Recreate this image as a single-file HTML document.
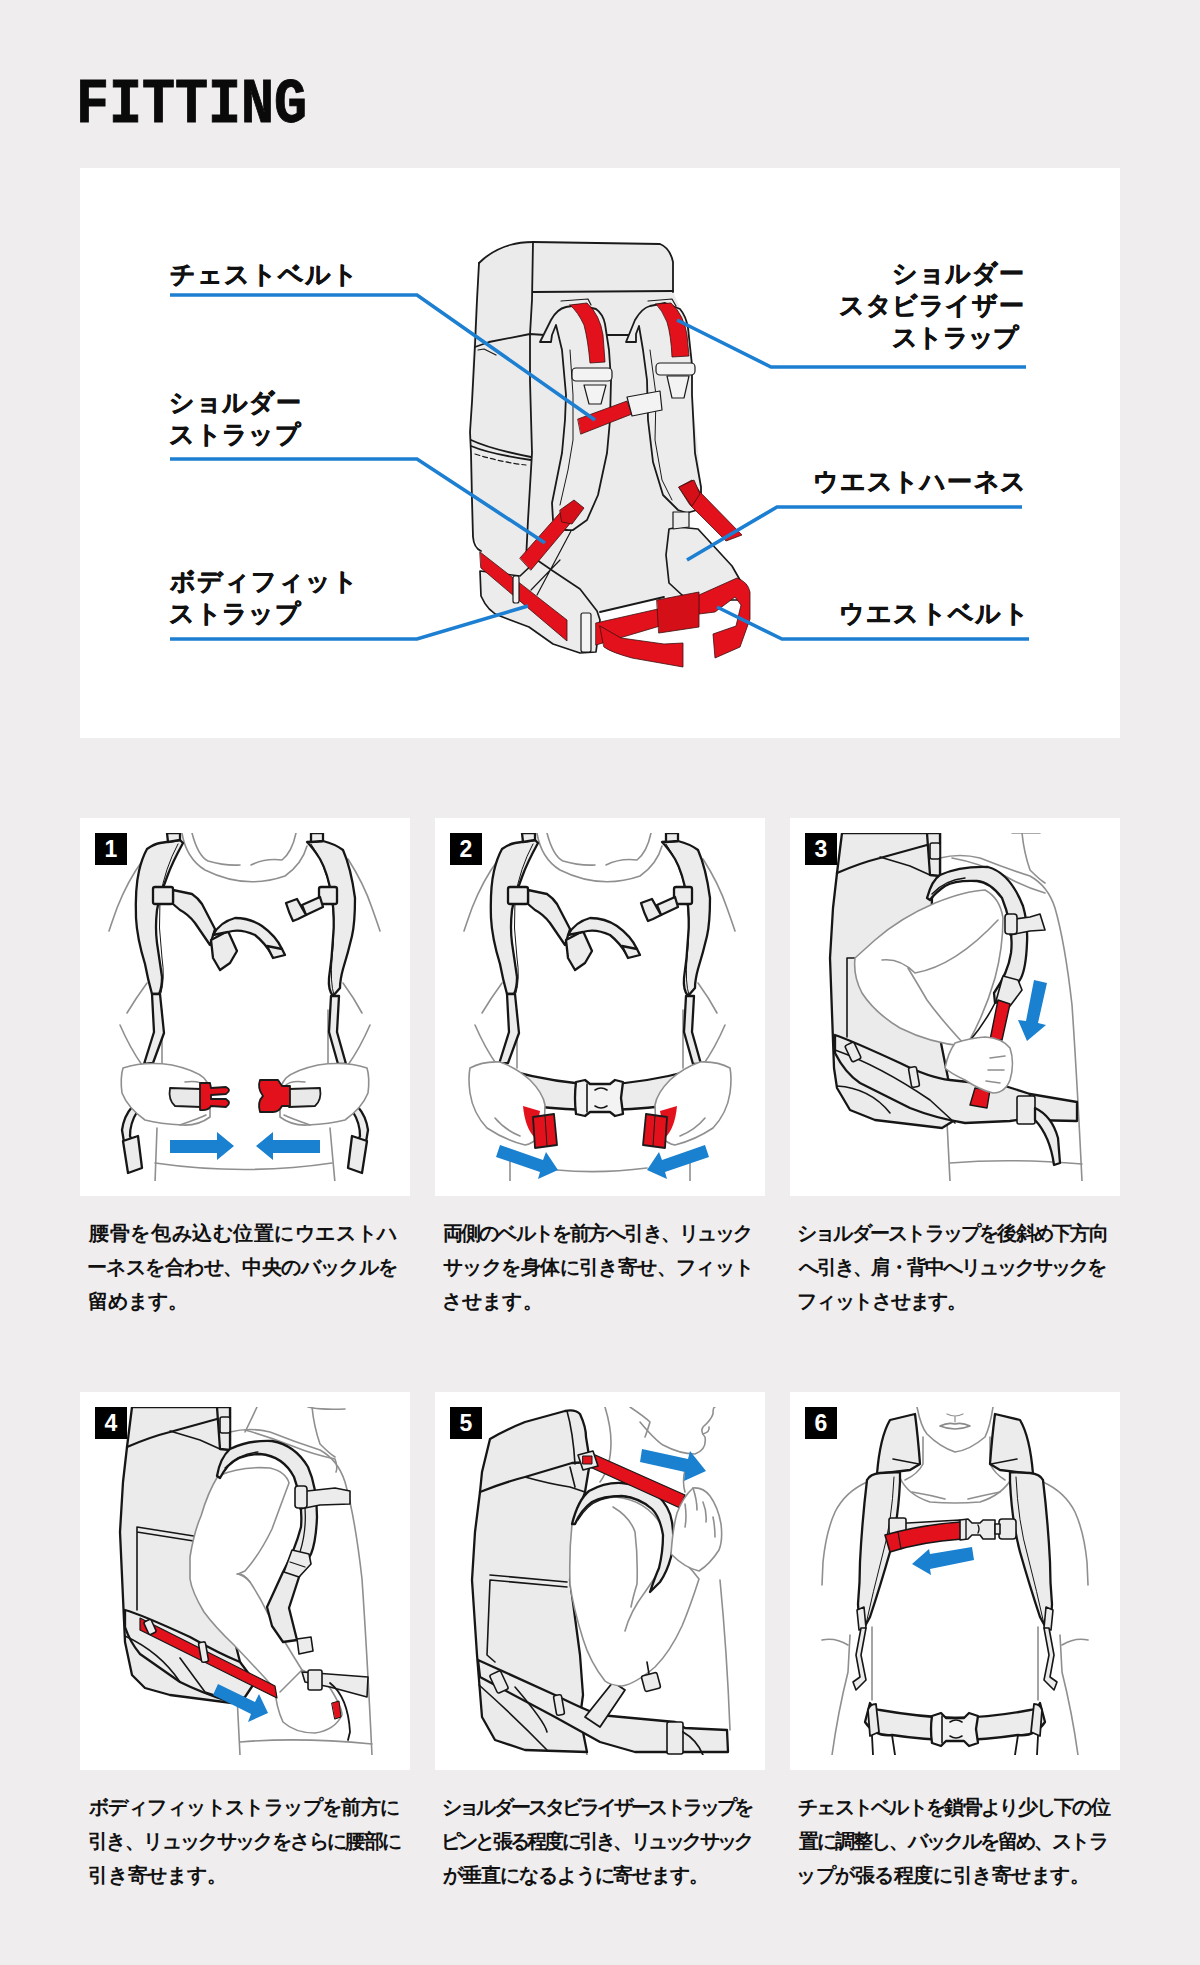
<!DOCTYPE html>
<html lang="ja">
<head>
<meta charset="utf-8">
<style>
html,body{margin:0;padding:0;}
body{width:1200px;height:1965px;background:#efedee;position:relative;overflow:hidden;font-family:"Liberation Sans",sans-serif;}
.title{position:absolute;left:76px;top:71px;font-family:"Liberation Mono",monospace;font-weight:bold;font-size:55px;line-height:60px;color:#0a0a0a;transform-origin:0 0;transform:scaleY(1.16);-webkit-text-stroke:0.8px #0a0a0a;}
.panel{position:absolute;background:#fff;}
.main{left:80px;top:168px;width:1040px;height:570px;}
.card{width:330px;height:378px;}
.badge{position:absolute;left:15px;top:15px;width:32px;height:32px;background:#000;color:#fff;font-weight:bold;font-size:23px;line-height:32px;text-align:center;}
.cap{position:absolute;font-size:20px;line-height:34px;color:#111;font-weight:bold;white-space:nowrap;}
.lbl{position:absolute;font-size:25px;line-height:32px;font-weight:bold;color:#111;white-space:nowrap;-webkit-text-stroke:0.5px #111;}
.cap i,.lbl i{display:inline-block;font-style:normal;width:var(--w);text-align:center;}
svg{position:absolute;left:0;top:0;}
</style>
</head>
<body>
<div class="title">FITTING</div>
<div class="panel main"></div>
<div class="panel card" style="left:80px;top:818px"></div>
<div class="panel card" style="left:435px;top:818px"></div>
<div class="panel card" style="left:790px;top:818px"></div>
<div class="panel card" style="left:80px;top:1392px"></div>
<div class="panel card" style="left:435px;top:1392px"></div>
<div class="panel card" style="left:790px;top:1392px"></div>
<svg width="1200" height="1965" viewBox="0 0 1200 1965">
<defs>
<clipPath id="cp1"><rect x="95" y="833" width="300" height="348"/></clipPath>
<clipPath id="cp2"><rect x="450" y="833" width="300" height="348"/></clipPath>
<clipPath id="cp3"><rect x="805" y="833" width="300" height="348"/></clipPath>
<clipPath id="cp4"><rect x="95" y="1407" width="300" height="348"/></clipPath>
<clipPath id="cp5"><rect x="450" y="1407" width="300" height="348"/></clipPath>
<clipPath id="cp6"><rect x="805" y="1407" width="300" height="348"/></clipPath>
</defs>
<g id="mainbp" stroke-linejoin="round" stroke-linecap="round">
 <path fill="#ebebeb" d="M479,263 Q492,250 526,242 L660,244 Q670,246 673,262 L673,292 L690,330 L692,395 L697,440 L702,498 L689,511 L669,529 L666,555 L669,583 L682,595 L664,597 L600,612 L596,652 L580,653 L553,644 L529,627 L500,616 L481,596 L481,551 L473,537 L470,432 Q472,340 479,263 Z"/>
 <g fill="none" stroke="#1a1a1a" stroke-width="1.8">
  <path d="M479,263 Q492,250 510,245 Q520,242 533,242 L660,244 Q670,248 673,262 L673,292"/>
  <path d="M533,242 L532,300 L530,334 L530,381 L532,453 L528,520 L526,560"/>
  <path d="M533,292 L673,291" stroke-width="2"/>
  <path d="M479,263 L477,300 L475,345 L472,402 L470,432 L471,453 L472,500 L473,537 Q474,548 481,551"/>
  <path d="M475,347 L489,342 L530,334 L545,335"/>
  <path d="M478,350 L484,349 L496,355" stroke-width="1.2"/>
  <path d="M471,440 Q490,449 531,457"/>
  <path d="M471,446 Q490,454 531,460"/>
  <path d="M475,454 Q500,462 526,465" stroke-width="1.2" stroke-dasharray="5 3"/>
  <path d="M600,335 L630,335"/>
  <path d="M600,612 L664,597"/>
 </g>
 <!-- side bottom piece / hip wing left -->
 <path fill="#ececec" stroke="#1a1a1a" stroke-width="1.7" d="M480,571 L481,596 Q488,612 500,616 L529,627 L553,644 L580,653 L596,652 L600,620 L597,611 L580,589 L553,571 L537,560 L520,576 Z"/>
 <path fill="none" stroke="#1a1a1a" stroke-width="1.2" d="M571,531 L537,595 M560,560 L531,590"/>
 <!-- left shoulder strap -->
 <path fill="#ececec" stroke="#1a1a1a" stroke-width="1.8" d="M540,342 L551,320 Q557,309 566,307 L578,305 L596,309 Q603,314 605,324 L609,350 L611,380 L610,420 L607,453 L598,495 L587,520 L573,530 Q563,531 558,527 L553,520 L552,503 L562,453 L565,420 L566,395 L562,350 L556,325 L552,335 L551,342 Z"/>
 <path fill="none" stroke="#1a1a1a" stroke-width="1" d="M570,350 L573,395 L573,440 L568,470 L560,505"/>
 <path fill="none" stroke="#1a1a1a" stroke-width="1.2" d="M561,301 L588,299 L591,305"/>
 <!-- right shoulder strap -->
 <path fill="#ececec" stroke="#1a1a1a" stroke-width="1.8" d="M626,342 L635,320 Q642,308 650,306 L665,303 L680,309 Q686,316 688,328 L692,365 L692,395 L695,453 L701,487 L701,500 L697,510 L687,513 L678,510 L663,495 L653,462 L648,420 L647,380 L643,350 L639,326 L636,334 L636,342 Z"/>
 <path fill="none" stroke="#1a1a1a" stroke-width="1" d="M650,350 L656,395 L655,440 L662,480 L672,500"/>
 <path fill="none" stroke="#1a1a1a" stroke-width="1.2" d="M648,301 L672,299 L676,306"/>
 <!-- harness right wing -->
 <path fill="#ececec" stroke="#1a1a1a" stroke-width="1.7" d="M669,529 L678,527 L698,529 L732,566 L740,580 L738,600 L690,600 L682,595 L669,583 L666,555 Z"/>
 <path fill="#ececec" stroke="#1a1a1a" stroke-width="1.2" d="M673,512 L689,512 L689,527 L673,529 Z"/>
 <!-- red webbing -->
 <g fill="#e3111b" stroke="#3a1010" stroke-width="0.8">
  <path d="M570,305 L587,303 Q600,315 603,335 L605,362 L590,363 Q588,340 584,325 Q578,312 570,305 Z"/>
  <path d="M656,304 L671,303 Q684,315 687,335 L689,356 L672,357 Q671,335 667,322 Q662,310 656,304 Z"/>
  <path d="M578,419 L627,401 L632,414 L581,434 Z"/>
  <path d="M520,558 L566,506 L578,514 L531,570 Z"/>
  <path d="M679,487 L692,480 L700,492 L742,535 L726,541 L690,505 Z"/>
  <path d="M480,552 L567,620 L567,641 L481,568 Z"/>
  <path d="M596,623 L658,609 L660,626 L596,645 Z"/>
  <path d="M600,626 L621,638 L664,644 L683,643 L683,667 L632,658 Q610,652 604,647 Z"/>
  <path d="M699,595 L737,578 Q748,582 750,592 L750,619 L740,647 L715,658 L713,634 L736,626 L741,605 L735,597 L715,612 L699,614 Z"/>
 </g>
 <g fill="#d40f18" stroke="#3a1010" stroke-width="0.8">
  <path d="M657,600 L699,592 L699,627 L659,633 Z"/>
  <path d="M560,510 L574,500 L584,508 L572,524 L562,522 Z"/>
  <path d="M679,487 L694,480 L700,494 L692,506 Z"/>
 </g>
 <g fill="#f3f3f3" stroke="#1a1a1a" stroke-width="1.2">
  <rect x="572" y="368" width="40" height="13" rx="4"/>
  <rect x="656" y="363" width="39" height="12" rx="4"/>
  <path d="M584,385 L606,385 L601,404 L589,404 Z"/>
  <path d="M667,376 L689,376 L684,398 L672,398 Z"/>
  <path d="M627,397 L660,391 L662,410 L632,416 Z"/>
  <rect x="513" y="576" width="6" height="27" rx="2"/>
  <rect x="581" y="613" width="10" height="39" rx="2"/>
 </g>
</g>
<g fill="none" stroke="#1c7fd1" stroke-width="3.6" stroke-linejoin="miter">
 <path d="M170,295 L417,295 L595,420"/>
 <path d="M170,459 L417,459 L545,543"/>
 <path d="M170,639 L417,639 L528,606"/>
 <path d="M677,320 L771,367 L1026,367"/>
 <path d="M687,560 L777,507 L1022,507"/>
 <path d="M717,607 L782,639 L1029,639"/>
</g>

<g clip-path="url(#cp1)">
<g transform="translate(80,818)">
<g fill="none" stroke="#8f8f8f" stroke-width="1.6" stroke-linecap="round" stroke-linejoin="round">
 <!-- neck / collar -->
 <path d="M102,15 Q106,40 125,52 Q165,72 205,58 Q222,46 227,28"/>
 <path d="M112,15 Q118,38 128,43 Q145,48 160,47"/>
 <path d="M171,47 Q185,40 202,42 Q212,34 216,15"/>
 <!-- shoulders / arms -->
 <path d="M63,42 Q48,62 37,90 Q32,104 29,113"/>
 <path d="M268,41 Q284,66 292,90 Q297,104 300,113"/>
 <path d="M67,165 Q56,180 47,195"/>
 <path d="M263,165 Q274,180 282,195"/>
 <path d="M40,207 Q50,230 62,247"/>
 <path d="M290,207 Q280,230 268,247"/>
 <path d="M82,192 L82,250"/>
 <path d="M248,192 L248,250"/>
</g>
<!-- shoulder straps -->
<g stroke="#161616" stroke-width="2.3" stroke-linejoin="round" stroke-linecap="round">
 <path fill="#ececec" d="M67,31 Q74,26 80,25 L100,22 L103,25 Q92,45 87,59 Q79,80 77,92 Q75,110 77,125 Q80,145 82,159 Q82,170 79,176 L72,176 Q68,162 65,146 Q57,120 56,100 Q55,70 59,53 Q62,40 67,31 Z"/>
 <path fill="#ececec" d="M227,24 L243,23 Q255,26 263,32 Q271,50 275,80 Q275,105 272,118 Q268,135 263,151 Q260,162 260,170 L253,178 Q248,172 249,160 Q252,140 253,120 Q255,100 252,80 Q248,55 240,41 Q233,30 227,24 Z"/>
 <path fill="#ececec" d="M72,176 L80,176 L84,215 L73,245 L64,246 L74,214 Z"/>
 <path fill="#ececec" d="M251,178 L259,178 L257,214 L266,246 L258,246 L249,214 Z"/>
 <path fill="none" stroke-width="1" d="M98,26 Q85,50 80,80 Q78,110 82,140 Q85,160 81,175"/>
 <path fill="none" stroke-width="1" d="M231,26 Q245,45 251,75 Q256,110 252,140 Q250,165 254,177"/>
 <path fill="#ececec" d="M87,15 L100,15 L100,22 L88,24 Z"/>
 <path fill="#ececec" d="M231,15 L243,15 L243,23 L231,24 Z"/>
</g>

<g stroke="#161616" stroke-width="2.3" stroke-linejoin="round" stroke-linecap="round">
 <!-- chest strap left -->
 <path fill="#ececec" d="M93,72 L112,76 Q118,80 122,86 L135,111 L130,127 L115,105 Q108,96 100,92 L93,86 Z"/>
 <rect fill="#ececec" x="73" y="69" width="20" height="17" rx="2"/>
 <path fill="#ececec" d="M131,122 L148,113 L157,133 L150,145 L140,152 L133,140 Z"/>
 <path fill="#ececec" d="M133,117 Q140,104 155,100 Q170,100 182,108 Q196,118 202,131 L192,137 Q185,125 175,117 Q160,110 148,114 Z"/>
 <path fill="#ececec" d="M187,128 L202,131 L205,137 L193,140 Z"/>
 <!-- chest strap right -->
 <rect fill="#ececec" x="239" y="69" width="18" height="17" rx="2"/>
 <path fill="#ececec" d="M222,87 L240,79 L243,89 L226,97 Z"/>
 <path fill="#ececec" d="M206,85 L217,81 Q222,90 226,97 L218,101 L213,103 Q209,95 206,85 Z"/>
 <!-- hip belt ends -->
 <path fill="#ececec" d="M52,289 L57,294 Q50,305 50,318 L54,327 L45,330 L42,312 Q44,298 52,289 Z"/>
 <path fill="#ececec" d="M43,323 L58,318 L62,350 L48,355 Z"/>
 <path fill="#ececec" d="M278,289 L273,294 Q280,305 280,318 L276,327 L285,330 L288,312 Q286,298 278,289 Z"/>
 <path fill="#ececec" d="M287,323 L272,318 L268,350 L282,355 Z"/>
</g>
<g fill="none" stroke="#8f8f8f" stroke-width="1.6" stroke-linecap="round" stroke-linejoin="round">
 <path d="M77,310 L75,365"/>
 <path d="M250,310 L255,365"/>
 <path d="M75,345 Q165,358 252,345"/>
 <path fill="#fff" d="M43,250 Q65,243 92,247 Q115,252 124,260 Q131,268 130,278 L130,299 Q118,308 102,307 Q80,306 65,302 Q48,290 42,275 Q40,260 43,250 Z"/>
 <path fill="#fff" d="M287,250 Q265,243 238,247 Q215,252 206,260 Q199,268 200,278 L200,299 Q212,308 228,307 Q250,306 265,302 Q282,290 288,275 Q290,260 287,250 Z"/>
 <path d="M100,307 Q120,300 126,297 M105,264 Q120,262 125,268 M230,307 Q210,300 204,297 M225,264 Q210,262 205,268"/>
</g>
<g stroke="#1b1b1b" stroke-width="1.8" stroke-linejoin="round">
 <path fill="#e9e9e9" d="M90,270 L121,271 L121,289 L95,288 Q88,282 90,270 Z"/>
 <path fill="#e9e9e9" d="M240,270 L209,271 L209,289 L235,288 Q242,282 240,270 Z"/>
 <path fill="#e3111b" d="M120,265 L130,265 L131,270 L146,269 Q152,272 146,276 L131,277 L131,281 L146,281 Q152,285 146,289 L131,288 Q128,293 120,292 Z"/>
 <path fill="#e3111b" d="M180,262 L198,262 L202,268 L210,268 L210,288 L202,288 Q199,294 193,294 L180,294 Q177,284 183,278 Q177,270 180,262 Z"/>
</g>
<g fill="#1a80d0">
 <path d="M90,322 L137,322 L137,314 L154,328 L137,342 L137,335 L90,335 Z"/>
 <path d="M240,322 L193,322 L193,314 L176,328 L193,342 L193,335 L240,335 Z"/>
</g>
</g>

</g>

<g clip-path="url(#cp2)">
<g transform="translate(435,818)">
<g fill="none" stroke="#8f8f8f" stroke-width="1.6" stroke-linecap="round" stroke-linejoin="round">
 <!-- neck / collar -->
 <path d="M102,15 Q106,40 125,52 Q165,72 205,58 Q222,46 227,28"/>
 <path d="M112,15 Q118,38 128,43 Q145,48 160,47"/>
 <path d="M171,47 Q185,40 202,42 Q212,34 216,15"/>
 <!-- shoulders / arms -->
 <path d="M63,42 Q48,62 37,90 Q32,104 29,113"/>
 <path d="M268,41 Q284,66 292,90 Q297,104 300,113"/>
 <path d="M67,165 Q56,180 47,195"/>
 <path d="M263,165 Q274,180 282,195"/>
 <path d="M40,207 Q50,230 62,247"/>
 <path d="M290,207 Q280,230 268,247"/>
 <path d="M82,192 L82,250"/>
 <path d="M248,192 L248,250"/>
</g>
<!-- shoulder straps -->
<g stroke="#161616" stroke-width="2.3" stroke-linejoin="round" stroke-linecap="round">
 <path fill="#ececec" d="M67,31 Q74,26 80,25 L100,22 L103,25 Q92,45 87,59 Q79,80 77,92 Q75,110 77,125 Q80,145 82,159 Q82,170 79,176 L72,176 Q68,162 65,146 Q57,120 56,100 Q55,70 59,53 Q62,40 67,31 Z"/>
 <path fill="#ececec" d="M227,24 L243,23 Q255,26 263,32 Q271,50 275,80 Q275,105 272,118 Q268,135 263,151 Q260,162 260,170 L253,178 Q248,172 249,160 Q252,140 253,120 Q255,100 252,80 Q248,55 240,41 Q233,30 227,24 Z"/>
 <path fill="#ececec" d="M72,176 L80,176 L84,215 L73,245 L64,246 L74,214 Z"/>
 <path fill="#ececec" d="M251,178 L259,178 L257,214 L266,246 L258,246 L249,214 Z"/>
 <path fill="none" stroke-width="1" d="M98,26 Q85,50 80,80 Q78,110 82,140 Q85,160 81,175"/>
 <path fill="none" stroke-width="1" d="M231,26 Q245,45 251,75 Q256,110 252,140 Q250,165 254,177"/>
 <path fill="#ececec" d="M87,15 L100,15 L100,22 L88,24 Z"/>
 <path fill="#ececec" d="M231,15 L243,15 L243,23 L231,24 Z"/>
</g>

<g stroke="#161616" stroke-width="2.3" stroke-linejoin="round" stroke-linecap="round">
<!-- chest strap left -->
 <path fill="#ececec" d="M93,72 L112,76 Q118,80 122,86 L135,111 L130,127 L115,105 Q108,96 100,92 L93,86 Z"/>
 <rect fill="#ececec" x="73" y="69" width="20" height="17" rx="2"/>
 <path fill="#ececec" d="M131,122 L148,113 L157,133 L150,145 L140,152 L133,140 Z"/>
 <path fill="#ececec" d="M133,117 Q140,104 155,100 Q170,100 182,108 Q196,118 202,131 L192,137 Q185,125 175,117 Q160,110 148,114 Z"/>
 <path fill="#ececec" d="M187,128 L202,131 L205,137 L193,140 Z"/>
 <!-- chest strap right -->
 <rect fill="#ececec" x="239" y="69" width="18" height="17" rx="2"/>
 <path fill="#ececec" d="M222,87 L240,79 L243,89 L226,97 Z"/>
 <path fill="#ececec" d="M206,85 L217,81 Q222,90 226,97 L218,101 L213,103 Q209,95 206,85 Z"/>
 
 <!-- waist belt -->
 <path fill="#ececec" d="M72,252 Q120,265 165,267 Q210,265 258,252 L262,262 Q240,282 230,288 Q195,292 165,292 Q130,292 98,288 Q85,282 68,262 Z"/>
 <path fill="#f3f3f3" d="M141,264 L150,262 L155,266 L175,266 L180,262 L188,264 L186,280 L188,296 L180,298 L175,294 L155,294 L150,298 L141,296 Q139,280 141,264 Z"/>
 <path fill="none" stroke-width="1.6" d="M152,266 L152,294 M160,272 Q166,268 172,272 M160,288 Q166,292 172,288"/>
</g>
<g fill="none" stroke="#8f8f8f" stroke-width="1.6" stroke-linecap="round" stroke-linejoin="round">
 <path d="M75,342 L75,365"/>
 <path d="M255,342 L255,365"/>
 <path d="M122,352 Q165,356 212,350"/>
 <path fill="#fff" d="M35,250 Q48,243 65,244 Q82,250 95,262 Q108,275 110,287 Q110,305 105,317 Q98,326 90,327 Q70,322 52,310 Q38,295 35,275 Q33,260 35,250 Z"/>
 <path fill="#fff" d="M295,250 Q282,243 265,244 Q248,250 235,262 Q222,275 220,287 Q220,305 225,317 Q232,326 240,327 Q260,322 278,310 Q292,295 295,275 Q297,260 295,250 Z"/>
 <path d="M60,300 Q70,312 85,318 M270,300 Q260,312 245,318"/>
</g>
<g stroke="#1b1b1b" stroke-width="1.8" stroke-linejoin="round">
 <path fill="#e3111b" stroke="none" d="M88,288 L105,293 L100,320 Q90,310 88,288 Z"/>
 <path fill="#e3111b" stroke="none" d="M242,288 L225,293 L230,320 Q240,310 242,288 Z"/>
 <path fill="#e3111b" d="M98,299 L119,296 L122,327 L100,330 Z"/>
 <path fill="#e3111b" d="M232,299 L211,296 L208,327 L230,330 Z"/>
 <path fill="none" stroke-width="1" d="M110,298 L112,328 M220,298 L218,328"/>
</g>
<g fill="#1a80d0">
 <path d="M65,327 L108,342 L111,334 L123,352 L103,361 L105,354 L61,339 Z"/>
 <path d="M270,327 L227,342 L224,334 L212,352 L232,361 L230,354 L274,339 Z"/>
</g>
</g>

</g>

<g clip-path="url(#cp3)">
<g transform="translate(790,818)">
<!-- person torso -->
<g fill="none" stroke="#8f8f8f" stroke-width="1.6" stroke-linecap="round" stroke-linejoin="round">
 <path fill="#fff" stroke="none" d="M150,40 Q170,35 190,40 Q215,50 240,58 Q258,68 265,90 Q275,125 282,187 Q287,260 292,358 L160,360 L157,304 L150,60 Z"/>
 <path d="M150,40 Q170,35 190,40 Q215,50 240,58 Q258,68 265,90 Q275,125 282,187 Q287,260 292,363 M157,304 L160,363"/>
 <path d="M232,15 Q234,35 240,52 Q250,62 255,65"/>
 <path d="M222,15 Q230,15 250,15"/>
 <path d="M162,40 Q190,45 215,58 Q232,68 255,75"/>
 <path d="M160,345 Q220,340 292,346"/>
</g>
<!-- backpack body -->
<g stroke="#161616" stroke-width="2.3" stroke-linejoin="round" stroke-linecap="round">
 <path fill="#ebebeb" d="M52,15 L150,15 L150,58 L142,80 L140,160 L150,220 L158,260 L168,300 L152,310 L85,302 L60,292 L47,270 L44,250 L40,140 L43,90 L47,55 Z"/>
 <path fill="none" d="M47,55 Q70,45 90,40 L137,27 L150,25"/>
 <path fill="none" stroke-width="1.6" d="M90,39 Q110,45 120,48 L140,57"/>
 <path fill="#ebebeb" d="M137,15 L150,15 L150,58 L140,57 Z"/>
 <rect fill="#ececec" x="140" y="25" width="10" height="16" rx="2" stroke-width="1.6"/>
 <path fill="none" stroke-width="1.6" d="M57,140 L66,140 M57,140 L57,219"/>
 <!-- hip belt -->
 <path fill="#ececec" d="M45,217 Q60,222 110,245 Q140,260 160,262 L215,268 L240,276 L240,300 L220,303 L175,305 Q145,300 120,290 L70,265 Q55,255 45,235 Z"/>
 <path fill="none" stroke-width="1.6" d="M45,232 Q90,248 140,282 L165,305"/>
 <path fill="none" stroke-width="1.6" d="M47,268 Q80,270 100,295"/>
 <rect fill="#ececec" x="58" y="225" width="10" height="18" rx="2" transform="rotate(-25 63 234)" stroke-width="1.6"/>
 <rect fill="#ececec" x="120" y="249" width="8" height="20" rx="2" transform="rotate(-10 124 259)" stroke-width="1.6"/>
 <path fill="#ececec" d="M240,276 L287,284 L287,303 L240,302 Z"/>
 <rect fill="#ececec" x="227" y="278" width="18" height="28" rx="2" stroke-width="1.6"/>
 <path fill="#ececec" d="M245,290 Q262,298 268,320 L270,345 L264,347 Q260,318 245,302 Z"/>
</g>
<!-- arm -->
<g fill="#fff" stroke="#8f8f8f" stroke-width="1.6" stroke-linecap="round" stroke-linejoin="round">
 <path d="M65,140 L85,122 Q110,100 145,85 Q175,73 195,72 Q210,80 213,100 Q213,130 205,160 Q195,195 178,225 L173,228 Q140,225 110,210 Q85,195 72,175 Q63,158 65,140 Z"/>
 <path fill="none" d="M92,142 Q110,140 125,155 Q165,148 208,102"/>
 <path fill="none" d="M118,150 Q130,170 137,182 Q150,200 173,225"/>
</g>
<!-- shoulder strap -->
<g stroke="#161616" stroke-width="2.3" stroke-linejoin="round" stroke-linecap="round">
 <path fill="#ebebeb" d="M137,80 Q142,62 150,57 Q170,48 198,49 Q220,55 233,88 Q238,105 237,125 Q236,150 231,160 L218,182 L205,185 L204,175 Q218,155 221,135 Q224,110 212,80 Q200,64 187,63 Q165,62 155,68 Q145,75 140,82 Z"/>
 <path fill="none" stroke-width="1.4" d="M142,76 Q155,62 175,60"/>
 <path fill="#ececec" d="M213,158 L228,162 L232,172 L220,188 L206,183 Z" stroke-width="1.6"/>
 <path fill="#ececec" d="M218,102 L240,99 L250,96 L255,112 L240,113 L220,117 Z" stroke-width="1.6"/>
 <rect fill="#ececec" x="215" y="96" width="12" height="20" rx="3" stroke-width="1.6"/>
 <path fill="none" stroke-width="1.6" d="M205,185 Q195,205 178,225"/>
 <path fill="#e3111b" stroke-width="1.4" d="M208,182 L220,186 L212,222 L200,222 Z"/>
 <path fill="#e3111b" stroke-width="1.4" d="M185,270 L200,272 L197,290 L180,287 Z"/>
</g>
<!-- hand -->
<g fill="#fff" stroke="#8f8f8f" stroke-width="1.6" stroke-linecap="round" stroke-linejoin="round">
 <path d="M165,225 Q180,220 195,219 Q212,220 220,230 Q225,245 220,262 Q215,275 203,275 Q190,272 175,262 Q160,255 155,250 Q158,235 165,225 Z"/>
 <path fill="none" d="M200,240 L215,238 M198,252 L214,252 M196,263 L210,265"/>
</g>
<path fill="#1a80d0" d="M244,162 L257,165 L248,205 L256,207 L237,223 L228,202 L236,203 Z"/>
</g>

</g>

<g clip-path="url(#cp4)">
<g transform="translate(80,1392)">
<g fill="none" stroke="#8f8f8f" stroke-width="1.6" stroke-linecap="round" stroke-linejoin="round">
 <path fill="#fff" stroke="none" d="M150,40 Q170,35 190,40 Q215,50 240,58 Q258,68 265,90 Q275,125 282,187 Q287,260 292,358 L160,360 L157,304 L150,60 Z"/>
 <path d="M150,40 Q170,35 190,40 Q215,50 240,58 Q258,68 265,90 Q275,125 282,187 Q287,260 292,363 M157,304 L160,363"/>
 <path d="M177,15 Q170,30 165,40"/>
 <path d="M232,15 Q234,35 240,52 Q250,62 255,65"/>
 <path d="M228,15 Q240,18 265,17"/>
 <path d="M165,38 Q190,45 215,55 Q232,62 255,67 Q258,75 256,80"/>
 <path d="M160,350 Q220,345 292,352"/>
</g>
<g stroke="#161616" stroke-width="2.3" stroke-linejoin="round" stroke-linecap="round">
 <path fill="#ebebeb" d="M52,15 L150,15 L150,58 L142,80 L135,160 L150,230 L160,270 L168,300 L152,311 L90,303 L65,296 L52,283 L45,250 L40,140 L43,90 L47,55 Z"/>
 <path fill="none" d="M47,55 Q70,45 90,40 L137,27 L150,25"/>
 <path fill="none" stroke-width="1.6" d="M90,39 Q110,45 120,48 L140,57"/>
 <path fill="#ebebeb" d="M137,15 L150,15 L150,58 L140,57 Z"/>
 <rect fill="#ececec" x="140" y="25" width="10" height="16" rx="2" stroke-width="1.6"/>
 <path fill="none" stroke-width="1.6" d="M57,135 L120,145 M57,140 L120,150 M57,135 L57,218"/>
 <!-- hip belt lower -->
 <path fill="#ececec" d="M45,218 Q60,222 110,245 Q140,262 160,270 L175,290 L165,305 L150,310 Q120,300 100,290 L60,262 Q50,250 45,235 Z"/>
 <path fill="none" stroke-width="1.6" d="M45,244 Q80,260 100,290 M100,266 L125,300 L150,308"/>
</g>
<!-- arm -->
<g fill="#fff" stroke="#8f8f8f" stroke-width="1.6" stroke-linecap="round" stroke-linejoin="round">
 <path d="M138,84 Q160,74 190,76 Q206,80 209,91 Q200,115 192,137 Q180,162 165,179 L158,182 Q165,184 170,190 Q180,205 187,220 Q195,235 203,247 Q212,262 222,278 Q240,285 250,296 Q262,315 262,323 Q255,338 235,341 Q215,341 203,330 Q196,315 195,297 Q175,275 154,253 Q135,235 124,220 Q112,200 110,187 L110,165 Q114,140 121,124 Q128,100 138,84 Z"/>
 <path fill="none" d="M157,182 Q163,181 170,190 M200,300 Q215,285 222,278"/>
</g>
<!-- shoulder strap -->
<g stroke="#161616" stroke-width="2.3" stroke-linejoin="round" stroke-linecap="round">
 <path fill="#ebebeb" d="M137,84 Q140,66 150,57 Q168,48 192,49 Q215,53 228,75 Q237,95 237,125 Q236,150 231,162 L220,182 L209,216 L217,248 L203,250 L192,234 L187,215 L203,180 Q215,158 221,135 Q223,110 214,85 Q203,64 180,62 Q160,62 148,74 Q143,80 140,86 Z"/>
 <path fill="none" stroke-width="1.3" d="M145,76 Q158,62 178,60 M224,105 Q228,135 220,160"/>
 <path fill="#ececec" d="M212,158 L229,162 L231,172 L219,185 L204,180 Z" stroke-width="1.6"/>
 <path fill="none" stroke-width="1.3" d="M210,170 L225,175"/>
 <path fill="#ececec" d="M218,100 L255,96 L270,99 L270,112 L240,113 L220,117 Z" stroke-width="1.6"/>
 <rect fill="#ececec" x="215" y="94" width="12" height="22" rx="3" stroke-width="1.6"/>
 <path fill="#ececec" d="M217,247 L231,245 L233,259 L219,262 Z" stroke-width="1.6"/>
<!-- right belt -->
 <path fill="#ececec" d="M222,280 L288,285 L287,305 L250,295 L225,290 Z" stroke-width="1.6"/>
 <rect fill="#ececec" x="228" y="278" width="14" height="20" rx="2" stroke-width="1.6"/>
 <path fill="none" stroke-width="1.8" d="M250,291 Q268,305 270,340 L268,348"/>
 <!-- red strap -->
 <path fill="#e3111b" stroke-width="1.2" d="M60,226 L195,294 L197,306 L60,238 Z"/>
 <rect fill="#ececec" x="66" y="228" width="8" height="14" rx="2" transform="rotate(-25 70 235)" stroke-width="1.6"/>
 <rect fill="#ececec" x="120" y="250" width="7" height="20" rx="2" transform="rotate(-10 124 260)" stroke-width="1.6"/>
 <path fill="#e3111b" stroke-width="1" d="M252,311 L259,309 L261,325 L255,327 Z"/>
</g>
<path fill="#1a80d0" d="M138,292 L175,310 L179,302 L188,321 L168,330 L171,322 L133,303 Z"/>
</g>

</g>

<g clip-path="url(#cp5)">
<g transform="translate(435,1392)">
<!-- person -->
<g fill="none" stroke="#8f8f8f" stroke-width="1.6" stroke-linecap="round" stroke-linejoin="round">
 <path fill="#fff" stroke="none" d="M165,85 Q175,65 180,40 L172,15 L300,15 L300,363 L150,363 L145,300 L140,150 Z"/>
 <path d="M145,323 L152,363"/>
 <path d="M170,15 Q176,35 176,50 Q176,75 165,90"/>
 <path d="M195,15 Q210,25 215,30 Q212,40 210,45"/>
 <path d="M205,30 Q220,48 228,53 Q245,62 260,62 Q272,58 270,45 Q265,40 268,35 Q276,28 278,22 Q278,15 280,15"/>
 <path d="M268,42 Q275,40 274,35"/>
 <path d="M250,78 Q247,90 250,100"/>
 <path d="M285,188 Q292,260 295,338"/>
</g>
<!-- backpack -->
<g stroke="#161616" stroke-width="2.3" stroke-linejoin="round" stroke-linecap="round">
 <path fill="#ebebeb" d="M55,47 Q70,38 90,30 L130,19 Q140,17 145,22 Q151,35 151,45 L155,70 L150,100 L140,130 L135,188 L145,263 L148,303 L145,325 L152,360 L90,358 L60,348 L47,325 L42,263 L37,188 L40,140 L45,100 L47,80 Z"/>
 <path fill="none" d="M45,100 Q70,90 90,85 L137,71 L155,70"/>
 <path fill="none" stroke-width="1.6" d="M132,19 Q138,40 140,72 M90,85 Q115,92 135,95 L150,100 M135,75 L140,95"/>
 <path fill="none" stroke-width="1.6" d="M55,188 L52,263 L60,270 M55,183 L132,190 M55,188 L132,195"/>
 <!-- hip belt -->
 <path fill="#ececec" d="M43,268 Q80,285 120,303 Q150,318 165,323 L240,330 L250,336 L292,338 L293,360 L200,360 L165,350 L120,325 L45,285 Z"/>
 <path fill="none" stroke-width="1.6" d="M44,293 Q80,325 112,358 M80,295 Q110,330 112,340"/>
 <rect fill="#ececec" x="58" y="280" width="12" height="20" rx="2" transform="rotate(-25 64 290)" stroke-width="1.6"/>
 <rect fill="#ececec" x="120" y="303" width="8" height="20" rx="2" transform="rotate(-10 124 313)" stroke-width="1.6"/>
 <rect fill="#ececec" x="232" y="330" width="16" height="32" rx="2" stroke-width="1.6"/>
 <path fill="none" stroke-width="1.8" d="M248,340 Q262,348 268,363"/>
 <path fill="#ececec" d="M150,325 L178,290 L190,298 L165,335 Z" stroke-width="1.8"/>
</g>
<!-- arm -->
<g fill="#fff" stroke="#8f8f8f" stroke-width="1.6" stroke-linecap="round" stroke-linejoin="round">
 <path d="M137,132 Q150,108 180,105 Q215,108 230,140 Q236,160 236,162 Q250,168 264,187 Q255,215 247,234 Q235,260 220,275 Q200,292 187,294 Q175,293 170,289 Q155,270 148,247 Q138,215 135,192 Q134,160 137,132 Z"/>
 <path fill="none" d="M178,115 Q195,125 200,140 Q203,165 202,192 Q198,205 196,215 M190,239 Q195,220 210,200 Q225,178 236,162"/>
</g>
<!-- shoulder strap arch -->
<g stroke="#161616" stroke-width="2.3" stroke-linejoin="round" stroke-linecap="round">
 <path fill="#ececec" d="M137,132 Q143,108 154,99 Q170,90 187,91 Q210,93 222,103 Q235,115 237,130 Q240,150 236,165 Q232,180 225,190 L215,200 Q220,185 224,176 Q228,160 228,143 Q225,125 217,117 Q205,106 187,104 Q168,104 157,110 Q146,118 140,132 Z"/>
 <path fill="none" stroke-width="1.3" d="M143,128 Q152,113 165,108 Q180,102 195,105"/>
<rect fill="#ececec" x="208" y="282" width="16" height="16" rx="2" transform="rotate(-15 216 290)" stroke-width="1.6"/>
 <path fill="none" stroke-width="1.6" d="M212,270 L214,282"/>
 <!-- red stabilizer -->
 <path fill="#e3111b" stroke-width="1.2" d="M158,62 L250,103 L245,116 L155,75 Z"/>
 <path fill="#ececec" d="M143,63 L158,59 L163,74 L148,78 Z" stroke-width="1.6"/>
 <rect fill="#e3111b" x="148" y="64" width="9" height="8" stroke-width="1"/>
</g>
<!-- hand -->
<g fill="#fff" stroke="#8f8f8f" stroke-width="1.6" stroke-linecap="round" stroke-linejoin="round">
 <path d="M236,162 Q238,135 242,121 Q248,105 258,96 Q268,95 275,104 Q283,115 286,132 Q288,148 284,158 Q275,172 264,179 Q250,176 236,162 Z"/>
 <path fill="none" d="M258,96 Q262,108 262,118 M268,110 Q272,120 271,130 M250,112 Q252,125 250,135 M278,125 Q280,135 280,145"/>
</g>
<path fill="#1a80d0" d="M207,57 L253,67 L255,59 L271,79 L249,89 L250,80 L205,70 Z"/>
</g>

</g>

<g clip-path="url(#cp6)">
<g transform="translate(790,1392)">
<g fill="none" stroke="#8f8f8f" stroke-width="1.6" stroke-linecap="round" stroke-linejoin="round">
 <path d="M127,15 Q131,35 137,42 Q150,55 165,60 Q180,58 195,45 Q200,35 203,15"/>
 <path d="M150,34 Q158,30 165,32 Q172,30 180,34 Q165,40 150,34 Z" stroke="#8a8a8a"/>
 <path d="M157,22 Q165,26 173,22 M165,24 L165,30" stroke-width="1.2"/>
 <path d="M133,45 L133,72 Q128,82 115,88"/>
 <path d="M200,45 L200,72 Q205,82 215,88"/>
 <path d="M110,86 Q118,103 140,110 Q165,112 190,110 Q212,103 222,86"/>
 <path d="M122,100 Q140,103 155,107 M178,107 Q195,103 210,100"/>
 <path d="M77,90 Q55,100 45,120 Q36,140 33,170 L32,193"/>
 <path d="M253,90 Q275,100 285,120 Q294,140 297,170 L298,193"/>
 <path d="M60,243 L58,280 Q48,320 42,363"/>
 <path d="M270,243 L272,280 Q282,320 288,363"/>
 <path d="M32,248 Q45,245 58,253 M298,248 Q285,245 272,253"/>
 <path d="M82,235 L82,308 M248,235 L248,308"/>
</g>
<g stroke="#161616" stroke-width="2.3" stroke-linejoin="round" stroke-linecap="round">
 <!-- back straps over shoulders -->
 <path fill="#ececec" d="M87,82 Q90,45 100,28 L125,22 Q128,45 130,72 L120,78 Z"/>
 <path fill="#ececec" d="M243,82 Q240,45 230,28 L205,22 Q202,45 200,72 L210,78 Z"/>
 <path fill="none" stroke-width="1.6" d="M103,67 L129,72 M227,67 L201,72"/>
 <!-- front straps -->
 <path fill="#ececec" d="M77,88 Q80,82 90,81 L110,80 L110,90 Q108,130 100,160 Q90,195 80,225 L74,236 Q68,225 68,212 Q70,190 70,170 Q72,130 77,88 Z"/>
 <path fill="#ececec" d="M253,88 Q250,82 240,81 L220,80 L220,90 Q222,130 230,160 Q240,195 250,225 L256,236 Q262,225 262,212 Q260,190 260,170 Q258,130 253,88 Z"/>
 <path fill="none" stroke-width="1" d="M104,85 Q102,130 92,165 Q83,200 76,232 M226,85 Q228,130 238,165 Q247,200 254,232"/>
 <path fill="#ececec" stroke-width="1.6" d="M67,218 L74,215 L76,236 L69,238 Z M263,218 L256,215 L254,236 L261,238 Z"/>
 <path fill="#ececec" stroke-width="1.6" d="M71,236 L76,236 L71,263 L76,288 L66,298 L63,290 L70,285 L66,263 Z"/>
 <path fill="#ececec" stroke-width="1.6" d="M259,236 L254,236 L259,263 L254,288 L264,298 L267,290 L260,285 L264,263 Z"/>
 <!-- chest strap -->
 <path fill="#ececec" d="M100,132 L170,128 L172,134 L100,140 Z" stroke-width="1.6"/>
 <rect fill="#ececec" x="99" y="126" width="17" height="16" rx="2" stroke-width="1.6"/>
 <path fill="#e3111b" stroke-width="1.6" d="M95,143 Q130,133 170,130 L172,147 Q130,150 100,160 Z"/>
 <path fill="none" stroke-width="1.2" d="M108,140 L111,157"/>
 <path fill="#ececec" stroke-width="1.6" d="M170,128 L178,127 L182,131 L190,131 L193,128 L205,128 L205,147 L193,147 L190,143 L182,143 L178,147 L170,148 Z"/>
 <path fill="none" stroke-width="1.4" d="M176,128 L176,147 M188,133 Q190,137 188,141"/>
 <rect fill="#ececec" x="209" y="127" width="17" height="20" rx="3" stroke-width="1.6"/>
 <path fill="#ececec" stroke-width="1.6" d="M205,132 L210,132 L210,142 L205,142 Z"/>
 <!-- waist belt -->
 <path fill="#ececec" d="M80,311 Q84,318 90,318 Q130,325 165,326 Q205,325 240,318 Q246,318 250,311 L255,330 Q245,345 228,343 Q195,348 165,348 Q135,348 102,343 Q85,345 75,330 Z"/>
 <path fill="#ececec" stroke-width="1.8" d="M78,318 Q80,312 86,312 L89,340 L80,344 Z M252,318 Q250,312 244,312 L241,340 L250,344 Z"/>
 <path fill="none" stroke-width="1.8" d="M82,344 L83,363 M102,343 L105,363 M248,344 L247,363 M228,343 L225,363"/>
 <path fill="#f3f3f3" d="M142,324 L151,321 L156,326 L174,326 L179,321 L188,324 L186,337 L188,351 L179,354 L174,349 L156,349 L151,354 L142,351 Q140,337 142,324 Z"/>
 <path fill="none" stroke-width="1.6" d="M152,324 L152,351 M160,330 Q166,326 172,330 M160,344 Q166,348 172,344"/>
</g>
<path fill="#1a80d0" d="M182,155 L140,162 L139,157 L122,172 L141,183 L140,177 L184,168 Z"/>
</g>

</g>
</svg>
<div class="badge" style="left:95px;top:833px">1</div>
<div class="badge" style="left:450px;top:833px">2</div>
<div class="badge" style="left:805px;top:833px">3</div>
<div class="badge" style="left:95px;top:1407px">4</div>
<div class="badge" style="left:450px;top:1407px">5</div>
<div class="badge" style="left:805px;top:1407px">6</div>
<div class="cap" id="c0" style="left:89.00px;top:1216px;--w:20.571px"><i>腰</i><i>骨</i><i>を</i><i>包</i><i>み</i><i>込</i><i>む</i><i>位</i><i>置</i><i>に</i><i>ウ</i><i>エ</i><i>ス</i><i>ト</i><i>ハ</i></div>
<div class="cap" id="c1" style="left:87.00px;top:1250px;--w:19.433px"><i>ー</i><i>ネ</i><i>ス</i><i>を</i><i>合</i><i>わ</i><i>せ</i><i>、</i><i>中</i><i>央</i><i>の</i><i>バ</i><i>ッ</i><i>ク</i><i>ル</i><i>を</i></div>
<div class="cap" id="c2" style="left:88.00px;top:1284px;--w:19.875px"><i>留</i><i>め</i><i>ま</i><i>す</i><i>。</i></div>
<div class="cap" id="c3" style="left:443.00px;top:1216px;--w:18.156px"><i>両</i><i>側</i><i>の</i><i>ベ</i><i>ル</i><i>ト</i><i>を</i><i>前</i><i>方</i><i>へ</i><i>引</i><i>き</i><i>、</i><i>リ</i><i>ュ</i><i>ッ</i><i>ク</i></div>
<div class="cap" id="c4" style="left:443.00px;top:1250px;--w:19.433px"><i>サ</i><i>ッ</i><i>ク</i><i>を</i><i>身</i><i>体</i><i>に</i><i>引</i><i>き</i><i>寄</i><i>せ</i><i>、</i><i>フ</i><i>ィ</i><i>ッ</i><i>ト</i></div>
<div class="cap" id="c5" style="left:442.00px;top:1284px;--w:20.125px"><i>さ</i><i>せ</i><i>ま</i><i>す</i><i>。</i></div>
<div class="cap" id="c6" style="left:797.00px;top:1216px;--w:18.219px"><i>シ</i><i>ョ</i><i>ル</i><i>ダ</i><i>ー</i><i>ス</i><i>ト</i><i>ラ</i><i>ッ</i><i>プ</i><i>を</i><i>後</i><i>斜</i><i>め</i><i>下</i><i>方</i><i>向</i></div>
<div class="cap" id="c7" style="left:799.00px;top:1250px;--w:18.031px"><i>へ</i><i>引</i><i>き</i><i>、</i><i>肩</i><i>・</i><i>背</i><i>中</i><i>へ</i><i>リ</i><i>ュ</i><i>ッ</i><i>ク</i><i>サ</i><i>ッ</i><i>ク</i><i>を</i></div>
<div class="cap" id="c8" style="left:797.00px;top:1284px;--w:18.750px"><i>フ</i><i>ィ</i><i>ッ</i><i>ト</i><i>さ</i><i>せ</i><i>ま</i><i>す</i><i>。</i></div>
<div class="cap" id="c9" style="left:89.00px;top:1790px;--w:19.433px"><i>ボ</i><i>デ</i><i>ィ</i><i>フ</i><i>ィ</i><i>ッ</i><i>ト</i><i>ス</i><i>ト</i><i>ラ</i><i>ッ</i><i>プ</i><i>を</i><i>前</i><i>方</i><i>に</i></div>
<div class="cap" id="c10" style="left:88.00px;top:1824px;--w:18.381px"><i>引</i><i>き</i><i>、</i><i>リ</i><i>ュ</i><i>ッ</i><i>ク</i><i>サ</i><i>ッ</i><i>ク</i><i>を</i><i>さ</i><i>ら</i><i>に</i><i>腰</i><i>部</i><i>に</i></div>
<div class="cap" id="c11" style="left:88.00px;top:1858px;--w:19.833px"><i>引</i><i>き</i><i>寄</i><i>せ</i><i>ま</i><i>す</i><i>。</i></div>
<div class="cap" id="c12" style="left:442.00px;top:1790px;--w:17.206px"><i>シ</i><i>ョ</i><i>ル</i><i>ダ</i><i>ー</i><i>ス</i><i>タ</i><i>ビ</i><i>ラ</i><i>イ</i><i>ザ</i><i>ー</i><i>ス</i><i>ト</i><i>ラ</i><i>ッ</i><i>プ</i><i>を</i></div>
<div class="cap" id="c13" style="left:441.00px;top:1824px;--w:17.235px"><i>ピ</i><i>ン</i><i>と</i><i>張</i><i>る</i><i>程</i><i>度</i><i>に</i><i>引</i><i>き</i><i>、</i><i>リ</i><i>ュ</i><i>ッ</i><i>ク</i><i>サ</i><i>ッ</i><i>ク</i></div>
<div class="cap" id="c14" style="left:443.00px;top:1858px;--w:18.946px"><i>が</i><i>垂</i><i>直</i><i>に</i><i>な</i><i>る</i><i>よ</i><i>う</i><i>に</i><i>寄</i><i>せ</i><i>ま</i><i>す</i><i>。</i></div>
<div class="cap" id="c15" style="left:798.00px;top:1790px;--w:18.312px"><i>チ</i><i>ェ</i><i>ス</i><i>ト</i><i>ベ</i><i>ル</i><i>ト</i><i>を</i><i>鎖</i><i>骨</i><i>よ</i><i>り</i><i>少</i><i>し</i><i>下</i><i>の</i><i>位</i></div>
<div class="cap" id="c16" style="left:799.00px;top:1824px;--w:18.094px"><i>置</i><i>に</i><i>調</i><i>整</i><i>し</i><i>、</i><i>バ</i><i>ッ</i><i>ク</i><i>ル</i><i>を</i><i>留</i><i>め</i><i>、</i><i>ス</i><i>ト</i><i>ラ</i></div>
<div class="cap" id="c17" style="left:796.00px;top:1858px;--w:19.571px"><i>ッ</i><i>プ</i><i>が</i><i>張</i><i>る</i><i>程</i><i>度</i><i>に</i><i>引</i><i>き</i><i>寄</i><i>せ</i><i>ま</i><i>す</i><i>。</i></div>
<div class="lbl" id="l0" style="left:169.00px;top:258px;--w:27.000px"><i>チ</i><i>ェ</i><i>ス</i><i>ト</i><i>ベ</i><i>ル</i><i>ト</i></div>
<div class="lbl" id="l1" style="left:169.00px;top:386px;--w:26.500px"><i>シ</i><i>ョ</i><i>ル</i><i>ダ</i><i>ー</i></div>
<div class="lbl" id="l2" style="left:169.00px;top:418px;--w:26.350px"><i>ス</i><i>ト</i><i>ラ</i><i>ッ</i><i>プ</i></div>
<div class="lbl" id="l3" style="left:170.00px;top:565px;--w:26.900px"><i>ボ</i><i>デ</i><i>ィ</i><i>フ</i><i>ィ</i><i>ッ</i><i>ト</i></div>
<div class="lbl" id="l4" style="left:169.00px;top:597px;--w:26.350px"><i>ス</i><i>ト</i><i>ラ</i><i>ッ</i><i>プ</i></div>
<div class="lbl" id="l5" style="left:892.00px;top:257px;--w:26.525px"><i>シ</i><i>ョ</i><i>ル</i><i>ダ</i><i>ー</i></div>
<div class="lbl" id="l6" style="left:839.20px;top:289px;--w:26.450px"><i>ス</i><i>タ</i><i>ビ</i><i>ラ</i><i>イ</i><i>ザ</i><i>ー</i></div>
<div class="lbl" id="l7" style="left:892.00px;top:321px;--w:25.250px"><i>ス</i><i>ト</i><i>ラ</i><i>ッ</i><i>プ</i></div>
<div class="lbl" id="l8" style="left:813.00px;top:465px;--w:26.714px"><i>ウ</i><i>エ</i><i>ス</i><i>ト</i><i>ハ</i><i>ー</i><i>ネ</i><i>ス</i></div>
<div class="lbl" id="l9" style="left:838.00px;top:597px;--w:27.333px"><i>ウ</i><i>エ</i><i>ス</i><i>ト</i><i>ベ</i><i>ル</i><i>ト</i></div>
</body>
</html>
